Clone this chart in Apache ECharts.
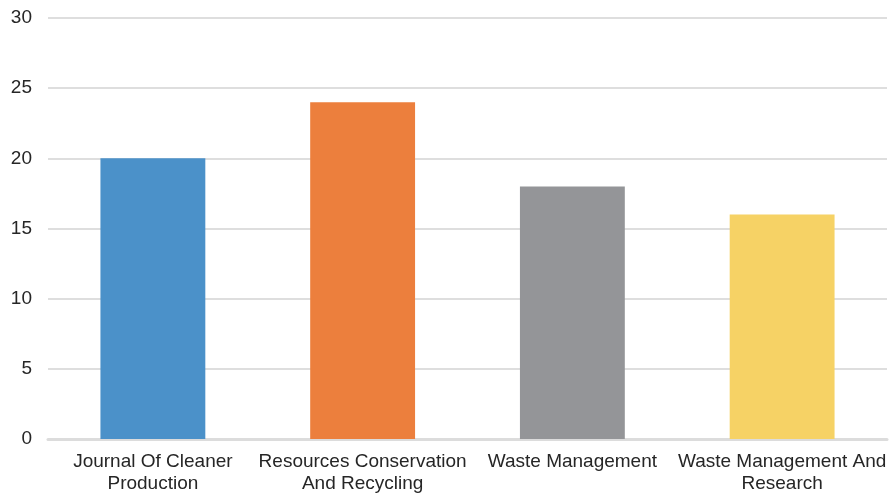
<!DOCTYPE html>
<html>
<head>
<meta charset="utf-8">
<script src="https://cdn.jsdelivr.net/npm/echarts@6/dist/echarts.min.js"></script>
<style>
  html, body { margin: 0; padding: 0; background: #fff; }
  #chart { width: 893px; height: 495px; }
</style>
</head>
<body>
<div id="chart"></div>
<script>
const categories = [
  'Journal Of Cleaner\nProduction',
  'Resources Conservation\nAnd Recycling',
  'Waste Management',
  'Waste Management And\nResearch'
]
const counts = [20, 24, 18, 16]
const barColors = ['#4b91c9', '#ec7f3d', '#949598', '#f6d265']

const chart = echarts.init(document.getElementById('chart'))
chart.setOption({
  backgroundColor: '#fff',
  animation: false,
  grid: { left: 48, right: 6, top: 18, bottom: 56, containLabel: false },
  xAxis: {
    type: 'category',
    data: categories,
    axisLine: { lineStyle: { color: '#dcdcdc', width: 3 } },
    axisTick: { show: false },
    axisLabel: {
      color: '#262626',
      fontFamily: 'Liberation Sans',
      fontSize: 19,
      lineHeight: 22,
      margin: 12,
      interval: 0
    }
  },
  yAxis: {
    type: 'value',
    min: 0,
    max: 30,
    interval: 5,
    axisLine: { show: false },
    axisTick: { show: false },
    axisLabel: {
      color: '#262626',
      fontFamily: 'Liberation Sans',
      fontSize: 19,
      margin: 16
    },
    splitLine: { lineStyle: { color: '#dedede', width: 2 } }
  },
  series: [{
    type: 'bar',
    barWidth: '50%',
    data: counts.map((v, i) => ({ value: v, itemStyle: { color: barColors[i] } }))
  }]
})
</script>
</body>
</html>
